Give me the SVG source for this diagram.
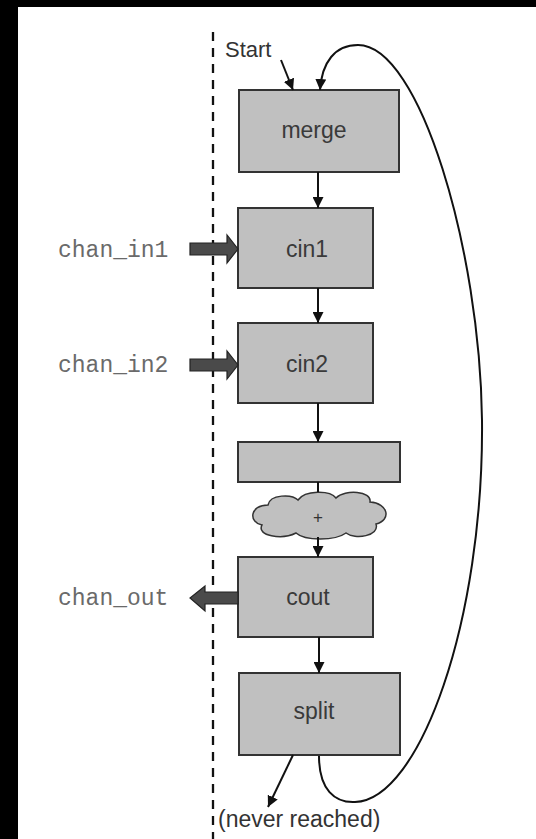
<svg xmlns="http://www.w3.org/2000/svg" width="536" height="839" viewBox="0 0 536 839">
<defs>
<style>
.box{fill:#c0c0c0;stroke:#333;stroke-width:2}
.lbl{font-family:"Liberation Sans",Arial,sans-serif;font-size:23px;fill:#3a3a3a;text-anchor:middle}
.mono{font-family:"Liberation Mono","Courier New",monospace;font-size:23px;fill:#6a6a6a}
.conn{fill:none;stroke:#111;stroke-width:2}
.blk{fill:#4a4a4a;stroke:#222;stroke-width:1.2}
</style>
<marker id="ah" viewBox="0 0 10 10" refX="10" refY="5" markerWidth="5.5" markerHeight="5.5" orient="auto" markerUnits="strokeWidth">
<path d="M0 0 L10 5 L0 10 Z" fill="#111"/>
</marker>
</defs>
<rect x="0" y="0" width="536" height="839" fill="#fff"/>
<rect x="0" y="0" width="536" height="7" fill="#000"/>
<rect x="0" y="0" width="18" height="839" fill="#000"/>
<line x1="213" y1="32" x2="213" y2="839" stroke="#111" stroke-width="2.3" stroke-dasharray="9 7"/>
<g id="merge"><rect class="box" x="239" y="90" width="160" height="82"/><text class="lbl" x="314" y="138">merge</text></g>
<g id="cin1"><rect class="box" x="238" y="208" width="135" height="80"/><text class="lbl" x="307" y="257">cin1</text></g>
<g id="cin2"><rect class="box" x="238" y="323" width="135" height="80"/><text class="lbl" x="307" y="372">cin2</text></g>
<g id="blank"><rect class="box" x="238" y="442" width="162" height="40"/></g>
<g id="plus"><path d="M262 525 C248 522,250 505,268 505 C270 494,292 494,298 500 C305 490,330 490,336 498 C345 489,372 491,370 502 C388 503,392 520,376 524 C380 536,355 540,346 533 C335 541,305 541,296 533 C282 540,256 536,262 525 Z" fill="#c0c0c0" stroke="#333" stroke-width="1.5"/><text x="318" y="523" font-family="Liberation Sans,Arial,sans-serif" font-size="17" fill="#333" text-anchor="middle">+</text></g>
<g id="cout"><rect class="box" x="238" y="557" width="135" height="80"/><text class="lbl" x="308" y="605">cout</text></g>
<g id="split"><rect class="box" x="239" y="673" width="161" height="82"/><text class="lbl" x="314" y="719">split</text></g>
<g id="start"><text x="225" y="57" font-family="Liberation Sans,Arial,sans-serif" font-size="22" fill="#333">Start</text></g>
<g id="never"><text x="218" y="827" font-family="Liberation Sans,Arial,sans-serif" font-size="23" fill="#333">(never reached)</text></g>
<g id="chan_in1"><text class="mono" x="58" y="257">chan_in1</text><path class="blk" d="M190 243 H227 V235 L238 249 L227 263 V255 H190 Z"/></g>
<g id="chan_in2"><text class="mono" x="58" y="372">chan_in2</text><path class="blk" d="M190 359 H227 V351 L238 365 L227 379 V371 H190 Z"/></g>
<g id="chan_out"><text class="mono" x="58" y="605">chan_out</text><path class="blk" d="M238 592 H205 V586 L190 598 L205 611 V604 H238 Z"/></g>
<g id="connectors">
<line class="conn" x1="281" y1="60" x2="293" y2="90" marker-end="url(#ah)"/>
<line class="conn" x1="318" y1="172" x2="318" y2="208" marker-end="url(#ah)"/>
<line class="conn" x1="318" y1="288" x2="318" y2="323" marker-end="url(#ah)"/>
<line class="conn" x1="318" y1="403" x2="318" y2="442" marker-end="url(#ah)"/>
<line class="conn" x1="318" y1="482" x2="318" y2="492"/>
<line class="conn" x1="318" y1="537" x2="318" y2="557" marker-end="url(#ah)"/>
<line class="conn" x1="319" y1="637" x2="319" y2="673" marker-end="url(#ah)"/>
<line class="conn" x1="293" y1="755" x2="268" y2="807" marker-end="url(#ah)"/>
<path class="conn" d="M319 756 C319 790,335 803,355 802 C420 800,484 620,482 420 C480 250,420 45,358 45 C335 45,322 62,320 90" marker-end="url(#ah)"/>
</g>
</svg>
